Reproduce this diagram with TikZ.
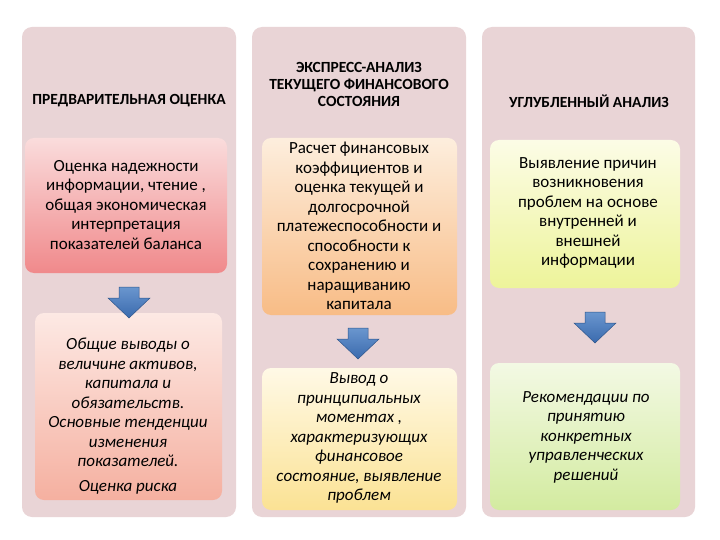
\documentclass[tikz,border=0pt]{standalone}
\usepackage{fontspec}
\setmainfont{Carlito}
\begin{document}
\begin{tikzpicture}[x=1pt,y=-1pt,
  col/.style={fill=colbg,rounded corners=10pt,draw=none},
  bx/.style={rounded corners=9pt,draw=none,align=center,font=\fontsize{17}{19.5}\selectfont,inner sep=2pt},
  bxi/.style={bx,font=\itshape\fontsize{17}{19.5}\selectfont},
  hd/.style={align=center,font=\bfseries\fontsize{15.5}{17}\selectfont},
  barrow/.style={top color=arrtop,bottom color=arrbot,draw=arrbot!80!black,line width=0.5pt}]
\definecolor{colbg}{HTML}{E9D4D6}
\definecolor{arrtop}{HTML}{6A96CE}
\definecolor{arrbot}{HTML}{3A6AAE}
\definecolor{t1}{HTML}{FADCDC}\definecolor{u1}{HTML}{F0898B}
\definecolor{t2}{HTML}{FDE9E4}\definecolor{u2}{HTML}{F5B0A0}
\definecolor{t3}{HTML}{FDEEDD}\definecolor{u3}{HTML}{F8BC86}
\definecolor{t4}{HTML}{FFF9E6}\definecolor{u4}{HTML}{FBE294}
\definecolor{t5}{HTML}{FCFCE6}\definecolor{u5}{HTML}{EDF49A}
\definecolor{t6}{HTML}{F3F9E4}\definecolor{u6}{HTML}{D3EBA0}
\useasboundingbox (0,0) rectangle (720,540);
\fill[white] (0,0) rectangle (720,540);
\fill[col] (22,27) rectangle (236,517);
\fill[col] (252,27) rectangle (466,517);
\fill[col] (482,27) rectangle (695,517);
\node[hd] (h1) at (129,101) {ПРЕДВАРИТЕЛЬНАЯ ОЦЕНКА};
\node[hd] (h2) at (359,84) {ЭКСПРЕСС-АНАЛИЗ\\ТЕКУЩЕГО ФИНАНСОВОГО\\СОСТОЯНИЯ};
\node[hd] (h3) at (589,101) {УГЛУБЛЕННЫЙ АНАЛИЗ};
% boxes
\path[bx,top color=t1,bottom color=u1] (25,138) rectangle (227,273);
\node[bx] (b1) at (126,205) {Оценка надежности\\информации, чтение ,\\общая экономическая\\интерпретация\\показателей баланса};
\path[bx,top color=t2,bottom color=u2] (35,313) rectangle (222,500);
\node[bxi] (b2) at (128,416) {Общие выводы о\\величине активов,\\капитала и\\обязательств.\\Основные тенденции\\изменения\\показателей.\\[5pt]Оценка риска};
\path[bx,top color=t3,bottom color=u3] (262,138) rectangle (457,315);
\node[bx] (c1) at (359,226) {Расчет финансовых\\коэффициентов и\\оценка текущей и\\долгосрочной\\платежеспособности и\\способности к\\сохранению и\\наращиванию\\капитала};
\path[bx,top color=t4,bottom color=u4] (262,368) rectangle (457,510);
\node[bxi] (c2) at (359,438) {Вывод о\\принципиальных\\моментах ,\\характеризующих\\финансовое\\состояние, выявление\\проблем};
\path[bx,top color=t5,bottom color=u5] (490,140) rectangle (680,288);
\node[bx] (d1) at (588,213) {Выявление причин\\возникновения\\проблем на основе\\внутренней и\\внешней\\информации};
\path[bx,top color=t6,bottom color=u6] (490,363) rectangle (680,510);
\node[bxi] (d2) at (586,437) {Рекомендации по\\принятию\\конкретных\\управленческих\\решений};
% arrows
\foreach \n/\cx/\ty in {a1/129/287, a2/358/328, a3/595/312}{
  \path[barrow] (\cx-10,\ty) -- (\cx+10,\ty) -- (\cx+10,\ty+11) -- (\cx+21,\ty+11) -- (\cx,\ty+31) -- (\cx-21,\ty+11) -- (\cx-10,\ty+11) -- cycle;
  \coordinate (\n) at (\cx,\ty);
}
\end{tikzpicture}
\end{document}
